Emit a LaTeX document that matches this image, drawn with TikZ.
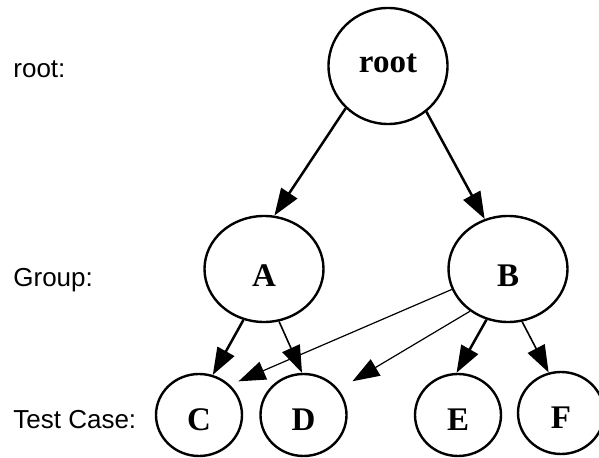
\documentclass[tikz,border=0pt]{standalone}
\usepackage{fontspec}
\setmainfont{Liberation Serif}
\setsansfont{Liberation Sans}
\usetikzlibrary{arrows.meta,shapes.geometric}

\begin{document}
\begin{tikzpicture}[x=0.5pt,y=-0.5pt,>={Triangle[length=13.5pt,width=9.5pt]},
  every node/.style={inner sep=0pt},
  level/.style={font=\sffamily\fontsize{13}{15}\selectfont,anchor=base west},
  vertex/.style={draw,ellipse,line width=1.2pt,font=\bfseries\fontsize{16.5}{19}\selectfont,text depth=0pt},
  rootnode/.style={vertex,minimum width=59.5pt,minimum height=58pt,text height=7pt},
  groupnode/.style={vertex,minimum width=59.5pt,minimum height=53pt,text height=18pt},
  casenode/.style={vertex,minimum width=43pt,minimum height=41pt,text height=16pt},
  heavy/.style={->,line width=1.25pt},
  medium/.style={->,line width=0.8pt},
  light/.style={->,line width=0.6pt}]
\useasboundingbox (0,0) rectangle (599,458);
% level names
\node[level] (lroot) at (13,78) {root:};
\node[level] (lgroup) at (13,287) {Group:};
\node[level] (lcase) at (13,429) {Test Case:};
% tree
\node[rootnode] (root) at (388,66) {root};
\node[groupnode] (A) at (264,269) {A};
\node[groupnode] (B) at (508,269) {B};
\node[casenode] (C) at (199,415) {C};
\node[casenode] (D) at (303.5,415) {D};
\node[casenode] (E) at (458,415) {E};
\node[casenode] (F) at (561,413) {F};
% edges
\draw[heavy] (root.225) -- (A.79);
\draw[heavy] (root.310) -- (B.115);
\draw[heavy] (A.248) -- (C.71);
\draw[medium] (A.286) -- (D.92);
\draw[light,shorten >=4.6pt] (B.200) -- (C.44);
\draw[light,shorten >=8pt] (B.228) -- (D.36);
\draw[heavy] (B.247) -- (E.92);
\draw[medium] (B.285) -- (F.107);
\end{tikzpicture}
\end{document}
